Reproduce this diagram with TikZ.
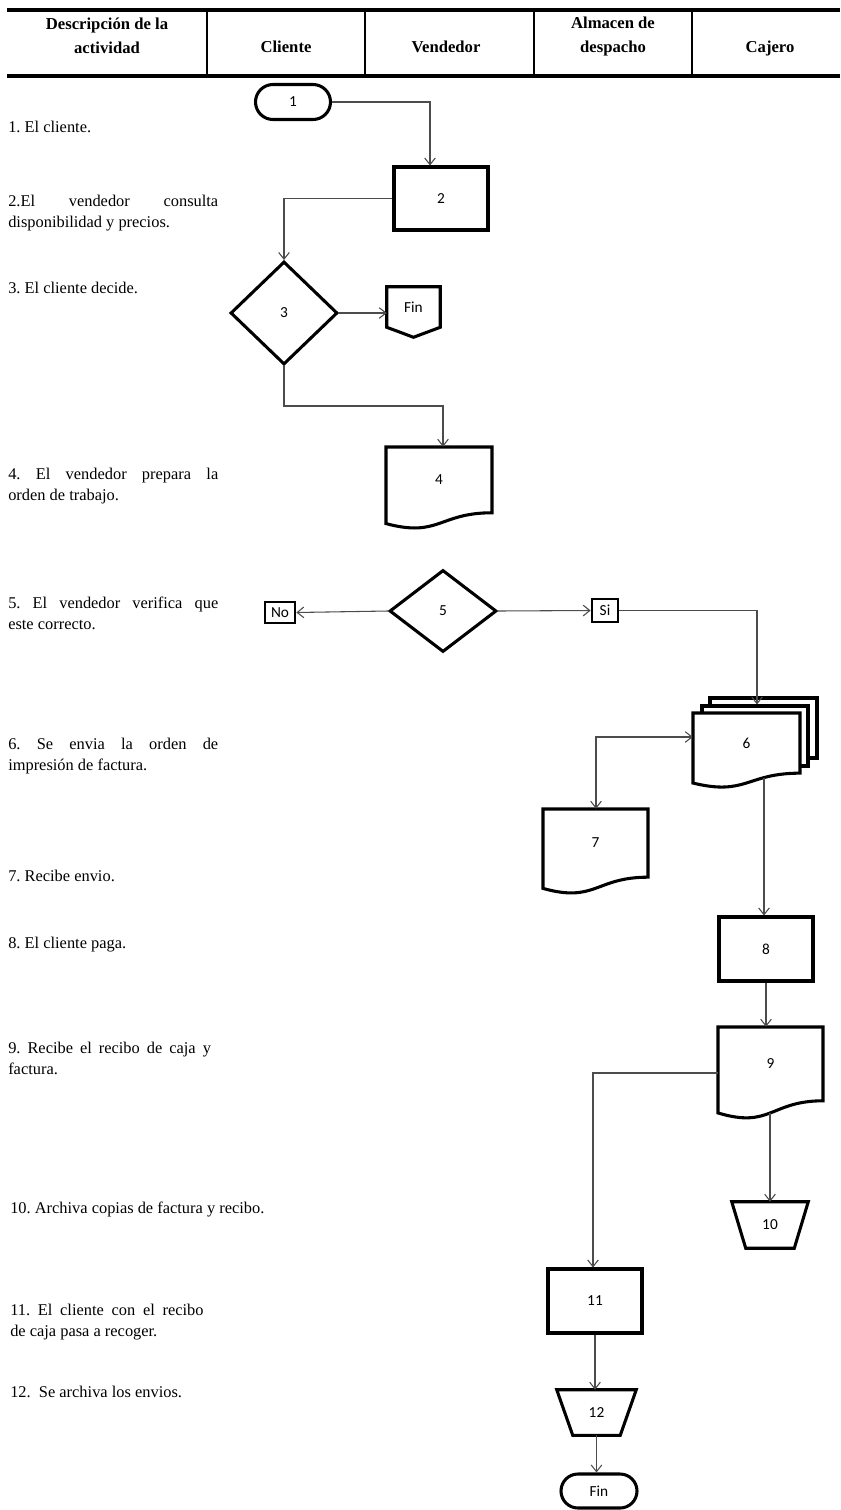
\documentclass[tikz,border=0pt]{standalone}
\usepackage{fontspec}
\setmainfont{Liberation Serif}
\newfontfamily\lblfont{Carlito}
\usetikzlibrary{shapes.geometric,shapes.misc,arrows.meta,calc}
\frenchspacing

% document symbol with a wavy bottom: x1, y1, width, height (pixel units)
\newcommand\docshape[4]{%
  \draw[outline] (#1,#2) -- ({#1+#3},#2) -- ({#1+#3},{#2+0.802*#4})
    .. controls ({#1+0.5*#3},{#2+0.802*#4}) and ({#1+0.5*#3},{#2+1.1075*#4}) .. (#1,{#2+0.934*#4}) -- cycle;}

\begin{document}
\begin{tikzpicture}[x=0.75pt,y=-0.75pt,
  >={Straight Barb[length=5pt,width=8pt]},
  outline/.style={draw=black,line width=2.3pt,fill=white},
  lbl/.style={font=\lblfont\fontsize{11.5}{13}\selectfont,inner sep=0pt,text=black},
  procbox/.style={outline,lbl,rectangle,minimum width=70.5pt,minimum height=48pt},
  pill/.style={outline,lbl,rounded rectangle,minimum width=56.25pt,minimum height=26.25pt},
  decision/.style={outline,lbl,diamond,minimum width=80.25pt,minimum height=77.25pt},
  holder/.style={lbl,rectangle},
  tag/.style={draw=black,line width=2pt,fill=white,lbl,rectangle},
  conn/.style={draw=black!70,line width=0.8pt,->},
  hdr/.style={font=\bfseries\fontsize{12.5}{18}\selectfont,align=center,inner sep=0pt},
  desc/.style={font=\fontsize{12.3}{15.75}\selectfont,inner sep=0pt,anchor=base west},
  descpar/.style={desc,text width=157.5pt,align=justify},
]
\useasboundingbox (0,0) rectangle (840,1510);

% ---------- header table ----------
\draw[line width=2.3pt] (7,10) -- (840,10);
\draw[line width=2.3pt] (7,76) -- (840,76);
\foreach \xs in {207,365,534,692} \draw[line width=1.1pt] (\xs,10) -- (\xs,76);
\node[hdr] (hdesc) at (107,36) {Descripción de la\\actividad};
\node[hdr,anchor=base] (hcli) at (286,52) {Cliente};
\node[hdr,anchor=base] (hven) at (446,52) {Vendedor};
\node[hdr] (halm) at (613,36) {Almacen de\\despacho};
\node[hdr,anchor=base] (hcaj) at (770,52) {Cajero};

% ---------- activity descriptions ----------
\node[desc] (a1) at (8,132) {1. El cliente.};
\node[descpar] (a2) at (8,206) {2.El vendedor consulta\linebreak disponibilidad y precios.};
\node[desc] (a3) at (8,293) {3. El cliente decide.};
\node[descpar] (a4) at (8,479) {4. El vendedor prepara la\linebreak orden de trabajo.};
\node[descpar] (a5) at (8,608) {5. El vendedor verifica que\linebreak este correcto.};
\node[descpar] (a6) at (8,749) {6. Se envia la orden de\linebreak impresión de factura.};
\node[desc] (a7) at (8,881) {7. Recibe envio.};
\node[desc] (a8) at (8,948) {8. El cliente paga.};
\node[descpar,text width=152pt] (a9) at (8,1053) {9. Recibe el recibo de caja y\linebreak factura.};
\node[desc] (a10) at (10,1213) {10. Archiva copias de factura y recibo.};
\node[descpar,text width=145pt] (a11) at (10,1315) {11. El cliente con el recibo\linebreak de caja pasa a recoger.};
\node[desc] (a12) at (10,1397) {12.\ \ Se archiva los envios.};

% ---------- flow symbols ----------
\node[pill] (s1) at (293,102) {1};
\node[procbox,minimum height=47.25pt] (s2) at (441,198.5) {2};
\node[decision] (s3) at (284,313) {3};

% off-page end
\node[holder,minimum width=39.75pt,minimum height=30pt] (fin1) at (413.5,307) {Fin};
\draw[draw=black,line width=2.3pt] (fin1.north west) -- (fin1.north east) -- (fin1.south east)
  -- ($(fin1.south)+(0,10)$) -- (fin1.south west) -- cycle;

\docshape{386}{447}{106}{82}
\node[holder,minimum width=79.5pt,minimum height=49.5pt] (s4) at (439,480) {4};

\node[decision,minimum height=61.5pt] (s5) at (443,611) {5};
\node[tag,minimum width=22.5pt,minimum height=15.75pt] (no) at (280,612.5) {\raisebox{-2pt}{No}};
\node[tag,minimum width=19.5pt,minimum height=17.25pt] (si) at (605,610.5) {Si};

% stacked documents
\node[outline,rectangle,minimum width=80.25pt,minimum height=45pt] (s6b) at (763.5,728) {};
\node[outline,rectangle,minimum width=79.5pt,minimum height=45pt] (s6m) at (755,736) {};
\docshape{693}{713}{107}{75}
\node[holder,minimum width=80.25pt,minimum height=45pt] (s6) at (746.5,743) {6};

\docshape{543}{809}{105}{85}
\node[holder,minimum width=78.75pt,minimum height=51pt] (s7) at (595.5,843) {7};

\node[procbox] (s8) at (766,949) {8};

\docshape{718}{1027}{105}{92}
\node[holder,minimum width=78.75pt,minimum height=55.5pt] (s9) at (770.5,1064) {9};

% archive symbols
\node[holder,minimum width=57pt,minimum height=34.5pt] (s10) at (770,1225) {10};
\draw[draw=black,line width=2.3pt] (s10.north west) -- (s10.north east)
  -- ($(s10.south east)+(-14,0)$) -- ($(s10.south west)+(14,0)$) -- cycle;

\node[procbox] (s11) at (595,1301) {11};

\node[holder,minimum width=59.25pt,minimum height=33.75pt] (s12) at (596.5,1412.5) {12};
\draw[draw=black,line width=2.3pt] (s12.north west) -- (s12.north east)
  -- ($(s12.south east)+(-16,0)$) -- ($(s12.south west)+(16,0)$) -- cycle;

\node[pill,minimum width=57pt,minimum height=25.5pt] (s13) at (599,1491) {Fin};

% ---------- connectors ----------
\coordinate (k1) at (430,99);
\coordinate (k2) at (443,406);
\coordinate (k3) at (757,607);
\coordinate (k4) at (596,737);
\coordinate (d6out) at (764,777.5);
\coordinate (d9out) at (770,1112.5);
\coordinate (k6) at (593,1073);

\draw[conn] (s1.east) -| (s2.north -| k1);
\draw[conn] (s2.west) -| (s3.north);
\draw[conn] (s3.east) -- (s3.east -| fin1.west);
\draw[conn] (s3.south) |- (k2) -- (k2 |- s4.north);
\draw[conn] (s5.west) -- (no.east);
\draw[conn] (s5.east) -- (si.west);
\draw[conn] (si.east) -| (s6m.north -| k3);
\draw[conn,<->] (s6.west |- k4) -| (k4 |- s7.north);
\draw[conn] (d6out) -- (d6out |- s8.north);
\draw[conn] (s8.south) -- (s8.south |- s9.north);
\draw[conn] (d9out) -- (d9out |- s10.north);
\draw[conn] (k6 -| s9.west) -| (k6 |- s11.north);
\draw[conn] (s11.south) -- (s11.south |- s12.north);
\draw[conn] (s12.south) -- (s12.south |- s13.north);
\end{tikzpicture}
\end{document}
